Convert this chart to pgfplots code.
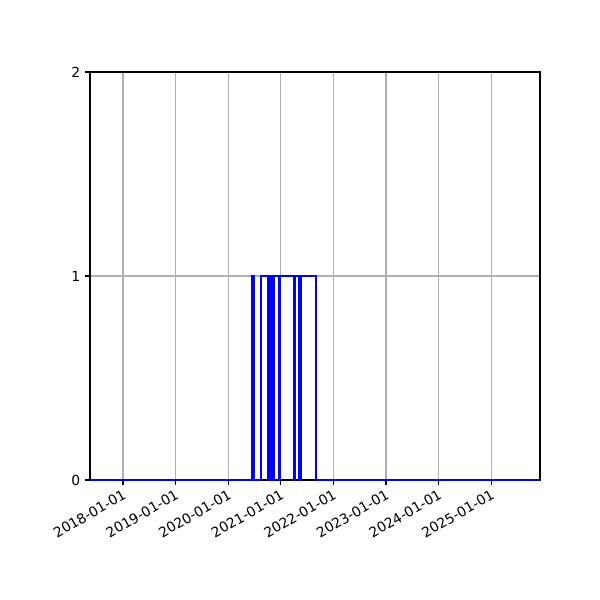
\documentclass[border=0pt]{standalone}
\usepackage{fontspec}
\setmainfont{DejaVu Sans}
\usepackage{pgfplots}
\pgfplotsset{compat=1.18}
\begin{document}
\begin{tikzpicture}
\begin{axis}[
  scale only axis,
  width=324pt, height=293.76pt,
  at={(0,0)}, anchor=south west,
  xmin=2017.373, xmax=2025.928,
  ymin=0, ymax=2,
  xtick={2018,2019,2020,2021,2022,2023,2024,2025},
  xticklabels={2018-01-01,2019-01-01,2020-01-01,2021-01-01,2022-01-01,2023-01-01,2024-01-01,2025-01-01},
  ytick={0,1,2},
  xtick pos=bottom, ytick pos=left,
  tick align=outside,
  major tick length=3.5pt,
  tick style={black, line width=0.8pt},
  axis line style={black, line width=0.8pt},
  grid=major,
  major grid style={color=black!31, line width=0.8pt},
  xticklabel style={rotate=30, anchor=north east, font=\fontsize{10}{12}\selectfont, inner sep=2pt},
  yticklabel style={font=\fontsize{10}{12}\selectfont},
  /pgf/number format/assume math mode=true,
  axis on top=false,
]
\addplot[const plot, color=blue, line width=1.5pt] coordinates {
(2017.373,0)
(2020.4525,1) (2020.481,0)
(2020.618,1)
(2020.764,0) (2020.767,1)
(2020.784,0) (2020.786,1)
(2020.800,0) (2020.803,1)
(2020.840,0) (2020.843,1)
(2020.857,0) (2020.859,1)
(2020.876,0) (2020.879,1)
(2020.975,0) (2020.977,1)
(2021.255,0) (2021.258,1)
(2021.272,0) (2021.275,1)
(2021.343,0) (2021.346,1)
(2021.381,0) (2021.384,1)
(2021.669,0)
(2025.928,0)
};
\end{axis}
\useasboundingbox (-64.8pt,-86.4pt) rectangle (367.2pt,345.6pt);
\end{tikzpicture}
\end{document}
